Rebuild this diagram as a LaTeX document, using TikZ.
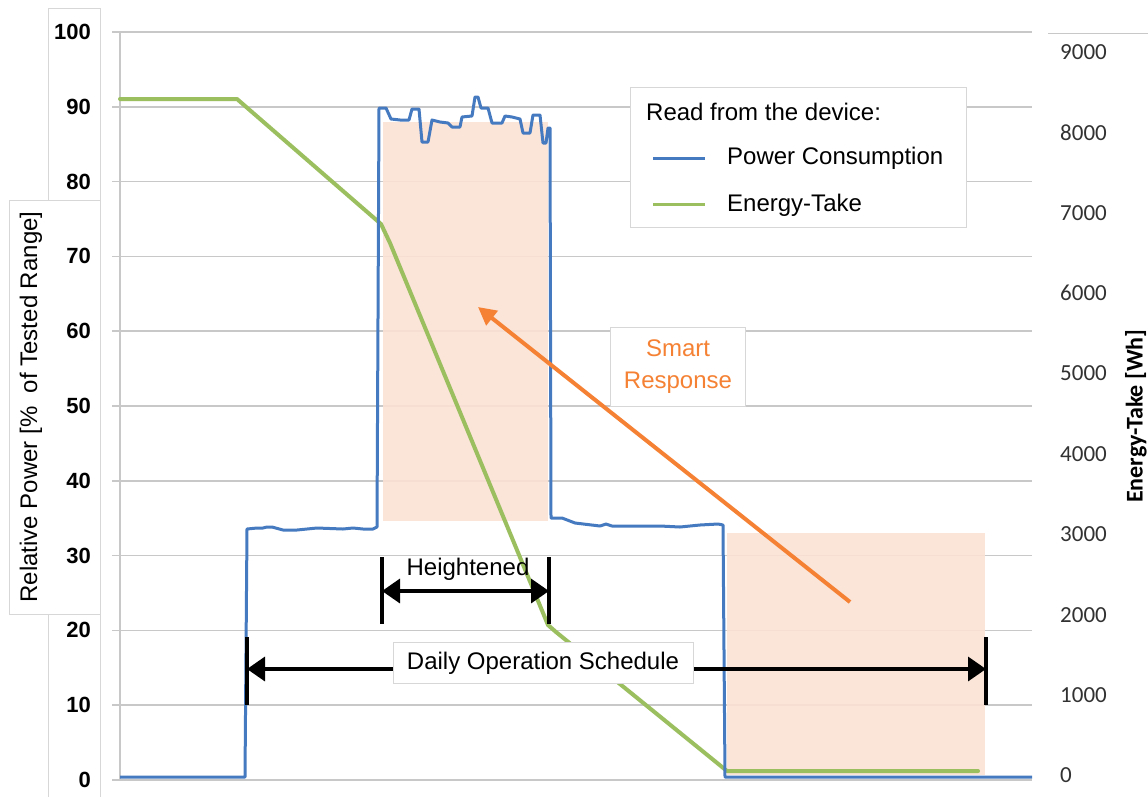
\documentclass[tikz,border=0pt]{standalone}
\usepackage{fontspec}
\setmainfont{Liberation Sans}
\newfontfamily\calib{Carlito}
\usetikzlibrary{arrows.meta}
\definecolor{gridc}{RGB}{200,200,200}
\definecolor{boxc}{RGB}{215,215,215}
\definecolor{pblue}{RGB}{70,122,192}
\definecolor{egreen}{RGB}{155,190,95}
\definecolor{peach}{RGB}{251,226,212}
\definecolor{sorange}{RGB}{245,130,52}
\definecolor{rtext}{RGB}{50,50,50}
\tikzset{
  gridline/.style={draw=gridc, line width=1.6pt},
  panel/.style={draw=boxc, fill=white, line width=0.8pt},
  lefttick/.style={anchor=east, inner sep=0pt, font=\fontsize{22}{26}\selectfont\bfseries},
  righttick/.style={anchor=west, inner sep=0pt, text=rtext, font=\calib\fontsize{23}{27}\selectfont},
  txt/.style={inner sep=0pt, font=\fontsize{24}{30}\selectfont},
  powerline/.style={draw=pblue, line width=3pt, line join=round},
  energyline/.style={draw=egreen, line width=4pt, line join=round, line cap=round},
  bar/.style={draw=black, line width=3.5pt},
  dimarrow/.style={draw=black, line width=3.5pt, {Triangle[length=18pt,width=24pt]}-{Triangle[length=18pt,width=24pt]}},
  smartarrow/.style={draw=sorange, line width=4pt, -{Triangle[length=18pt,width=18pt]}},
  zone/.style={fill=peach, fill opacity=0.9}
}
\begin{document}
\begin{tikzpicture}[x=1pt,y=-1pt]
\useasboundingbox (0,0) rectangle (1148,796);
\fill[white] (0,0) rectangle (1148,796);

% left panels
\draw[panel] (48,8) rectangle (100,800);
\draw[panel] (9,200) rectangle (100,614);
\node[txt, rotate=90] (ytitle) at (31,407) {Relative Power [\%\ \ of Tested Range]};

% right panel top line
\draw[draw=gridc, line width=1pt] (1048,33) -- (1148,33);

% grid
\foreach \k in {0,...,10} {
  \draw[gridline] (112,{32+74.8*\k}) -- (1032,{32+74.8*\k});
}
\draw[gridline] (120,32) -- (120,780);

% left tick labels
\foreach \v [count=\i from 0] in {100,90,...,0} {
  \node[lefttick] (lt\i) at (91,{32+74.8*\i}) {\v};
}
% right tick labels
\foreach \v [count=\i from 0] in {9000,8000,...,0} {
  \node[righttick] (rt\i) at (1060,{52+80.4*\i}) {\v};
}
\node[rotate=90, inner sep=0pt, font=\calib\fontsize{24}{28}\selectfont\bfseries] (y2title) at (1136,416) {Energy-Take [Wh]};

% shaded zones
\fill[zone] (383,122) rectangle (548,521);
\fill[zone] (727,533) rectangle (985,775);

% energy-take curve
\draw[energyline] (120,99) -- (237,99) -- (381,224) -- (390,243) -- (548,625) -- (556,632) -- (727,771) -- (978,771);

% power consumption curve
\draw[powerline] (120,777) -- (245,777) -- (247,529) -- (257,528) -- (263,528) -- (267,527) -- (272,527) -- (283,530) -- (297,530) -- (317,528) -- (343,529) -- (353,528) -- (363,529) -- (373,529) -- (377,527)
 -- (379,108) -- (386,108) -- (391,119) -- (400,120) -- (409,120) -- (412,109) -- (419,109) -- (422,142) -- (428,142) -- (432,120) -- (440,122) -- (448,123) -- (452,127) -- (460,127) -- (462,117) -- (472,116) -- (475,97) -- (478,97) -- (481,108) -- (488,108) -- (492,123) -- (502,123) -- (505,116) -- (512,117) -- (520,119) -- (523,133) -- (530,133) -- (533,115) -- (540,115) -- (543,143) -- (546,143) -- (548,128) -- (550,128)
 -- (551,518) -- (562,518) -- (575,523) -- (600,526) -- (606,524) -- (612,526) -- (660,526) -- (680,527) -- (700,525) -- (718,524) -- (723,525) -- (725,777) -- (1032,777);

% Heightened dimension
\coordinate (h1t) at (382,557);
\coordinate (h1b) at (382,624);
\coordinate (h2t) at (549,557);
\coordinate (h2b) at (549,624);
\coordinate (h1) at (382,591);
\coordinate (h2) at (549,591);
\draw[bar] (h1t) -- (h1b);
\draw[bar] (h2t) -- (h2b);
\draw[dimarrow] (h1) -- (h2);
\node[txt] (heightened) at (468,569) {Heightened};

% Daily operation schedule dimension
\coordinate (d1t) at (247,637);
\coordinate (d1b) at (247,705);
\coordinate (d2t) at (986,637);
\coordinate (d2b) at (986,705);
\coordinate (d1) at (247,669);
\coordinate (d2) at (986,669);
\draw[bar] (d1t) -- (d1b);
\draw[bar] (d2t) -- (d2b);
\draw[dimarrow] (d1) -- (d2);
\node[txt, draw=boxc, fill=white, line width=0.6pt, minimum width=300pt, minimum height=41pt] (daily) at (543,663) {Daily Operation Schedule};

% Smart response
\coordinate (srs) at (850,602);
\coordinate (sre) at (478,307);
\draw[smartarrow] (srs) -- (sre);
\node[txt, draw=boxc, fill=white, line width=0.6pt, text=sorange, align=center, minimum width=135pt, minimum height=79pt, font=\fontsize{24}{32}\selectfont] (smart) at (678,367) {Smart\\Response};

% legend
\draw[panel] (630,87) rectangle (966,227);
\node[txt, anchor=west] (legtitle) at (646,112) {Read from the device:};
\coordinate (lb1) at (653,158);
\coordinate (lb2) at (705,158);
\coordinate (lg1) at (653,204);
\coordinate (lg2) at (705,204);
\draw[draw=pblue, line width=3pt] (lb1) -- (lb2);
\draw[draw=egreen, line width=3pt] (lg1) -- (lg2);
\node[txt, anchor=west] (legpower) at (727,158) {Power Consumption};
\node[txt, anchor=west] (legenergy) at (727,205) {Energy-Take};
\end{tikzpicture}
\end{document}
